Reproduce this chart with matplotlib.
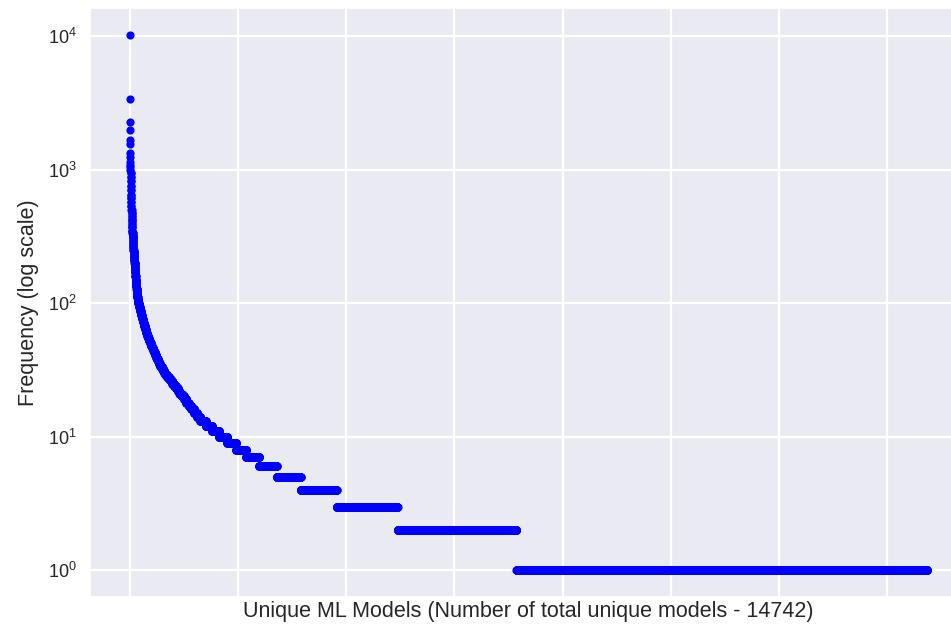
import numpy as np
import matplotlib
matplotlib.use("Agg")
import matplotlib.pyplot as plt
import seaborn as sns

# Frequency table: model frequency value -> number of unique models with that frequency
freq_levels = [10230, 3360, 2270, 1964, 1660, 1567, 1342, 1240, 1150, 1080, 1040, 1000,
               950, 880, 820, 760, 700, 650, 610, 570, 530, 500, 470, 450,
               430, 410, 390, 370, 350,
               335, 320, 305, 290, 275, 262, 250,
               240, 230, 220, 210, 200,
               190, 180, 170, 160, 150, 142,
               135, 128, 122, 116, 111, 106, 102, 100]
freq_counts = [1, 1, 1, 1, 1, 1, 1, 1, 1, 1, 1, 1,
               2, 2, 2, 2, 2, 2, 2, 2, 2, 2, 2, 2,
               2, 2, 2, 3, 3,
               3, 3, 3, 3, 3, 3, 3,
               4, 4, 4, 4, 4,
               4, 4, 5, 5, 5, 5,
               5, 5, 5, 6, 6, 6, 6, 5]

low_levels = list(range(99, 0, -1))
low_counts = ([3] * 20 +            # 99..80
              [4] * 10 +            # 79..70
              [5] * 10 +            # 69..60
              [7] * 8 +             # 59..52
              [10] * 8 +            # 51..44
              [11] * 5 +            # 43..39
              [14] * 4 +            # 38..35
              [20] * 5 +            # 34..30
              [32] * 5 +            # 29..25
              [33] * 3 +            # 24..22
              [42] * 2 +            # 21..20
              [42, 45, 48, 52, 55, 60] +   # 19..14
              [100, 115, 132] +            # 13..11
              [150, 165, 185, 240, 325, 443, 665, 1127, 2198])  # 10..2
total_models = 14742

levels = freq_levels + low_levels[:-1]
counts = freq_counts + low_counts
counts = counts + [total_models - sum(counts)]  # frequency 1
levels = levels + [1]

freq = np.repeat(levels, counts)
idx = np.arange(len(freq))

sns.set_theme(style="darkgrid")
plt.rcParams['font.family'] = ['Liberation Sans', 'DejaVu Sans']

fig = plt.figure(figsize=(9.51, 6.24), dpi=100)
ax = fig.add_axes([90/951, 27/624, (967-90)/951, (597-8)/624])
ax.plot(idx, freq, 'o', color='blue', markersize=5.9, markeredgewidth=0)
ax.set_yscale('log')
ax.set_xticks(np.arange(0, 14001, 2000))
ax.set_xticklabels([])
ax.grid(True, which='major', color='white', linewidth=1.6)
ax.tick_params(axis='y', labelsize=13)
ax.set_xlabel("Unique ML Models (Number of total unique models - 14742)", fontsize=15.5)
ax.set_ylabel("Frequency (log scale)", fontsize=15.5)
ax.xaxis.set_label_coords((528-90)/877, -0.006)
ax.yaxis.set_label_coords(-(90-39)/877, 0.5)
fig.savefig("out.png", dpi=100)
